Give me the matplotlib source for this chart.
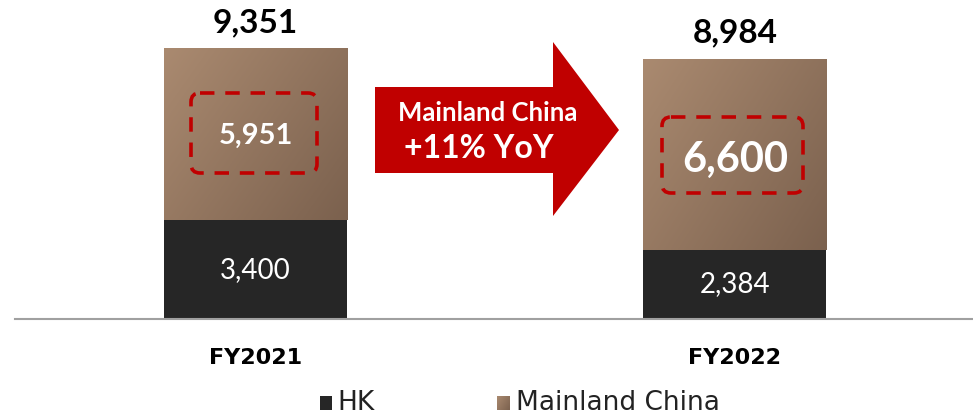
import numpy as np
import matplotlib
matplotlib.use("Agg")
import matplotlib.pyplot as plt
from matplotlib.patches import Polygon, FancyBboxPatch, Rectangle
from matplotlib.colors import LinearSegmentedColormap

categories = ["FY2021", "FY2022"]
hk = [3400, 2384]
mainland = [5951, 6600]
totals = [9351, 8984]
legend_labels = ["HK", "Mainland China"]
arrow_text = ["Mainland China", "+11% YoY"]

W, H = 973, 416
fig = plt.figure(figsize=(W / 100, H / 100), dpi=100)

HK_COLOR = "#262626"
RED = "#c00000"
brown_cmap = LinearSegmentedColormap.from_list("brown", ["#aa8a70", "#7b614e"])

# main axes: baseline at y=319 px, spans x 15..973
ax = fig.add_axes([15 / W, 97 / H, 1 - 15 / W, 319 / H])
x = np.arange(len(categories))
width = 0.3817
ax.set_xlim(-0.5016, 1.4964)
ax.set_ylim(0, 11007)

ax.bar(x, hk, width, color=HK_COLOR, zorder=2)
mbars = ax.bar(x, mainland, width, bottom=hk, color="#93765f", zorder=2)

# diagonal gradient: light top-left -> dark bottom-right
gx, gy = np.meshgrid(np.linspace(0, 1, 200), np.linspace(0, 1, 200))
grad = gx * 0.6 + gy * 0.4
for b in mbars:
    x0, y0 = b.get_x(), b.get_y()
    im = ax.imshow(grad, cmap=brown_cmap, aspect="auto", origin="upper",
                   extent=[x0, x0 + b.get_width(), y0, y0 + b.get_height()],
                   zorder=3)
    im.set_clip_path(b)
ax.set_xlim(-0.5016, 1.4964)
ax.set_ylim(0, 11007)

for xi, v in zip(x, hk):
    ax.text(xi, v / 2, f"{v:,}", ha="center", va="center", color="white",
            fontsize=20, family="Lato", zorder=5)
ax.text(x[0], hk[0] + mainland[0] * 0.49, f"{mainland[0]:,}", ha="center", va="center",
        color="white", fontsize=21, fontweight="bold", family="Lato", zorder=5)
ax.text(x[1], hk[1] + mainland[1] * 0.47, f"{mainland[1]:,}", ha="center", va="center",
        color="white", fontsize=30, fontweight="bold", family="Lato", zorder=5)
for xi, t in zip(x, totals):
    ax.annotate(f"{t:,}", (xi, t), xytext=(0, 8), textcoords="offset points",
                ha="center", va="bottom", fontsize=24, fontweight="bold",
                family="Lato", color="black")

ax.set_xticks(x)
ax.set_xticklabels(categories, fontsize=16, fontweight="bold",
                   family=["Liberation Sans Narrow", "DejaVu Sans"])
ax.tick_params(axis="x", length=0, pad=21)
ax.set_yticks([])
for s in ["top", "right", "left"]:
    ax.spines[s].set_visible(False)
ax.spines["bottom"].set_color("#a0a0a0")
ax.spines["bottom"].set_linewidth(1.5)

# overlay in pixel coordinates for annotations
ov = fig.add_axes([0, 0, 1, 1], facecolor="none")
ov.set_xlim(0, W)
ov.set_ylim(H, 0)
ov.axis("off")

arrow = Polygon([(375, 87), (553, 87), (553, 42), (619, 130), (553, 216),
                 (553, 173), (375, 173)], closed=True, facecolor=RED,
                edgecolor="none", zorder=2)
ov.add_patch(arrow)
ov.text(488, 113, arrow_text[0], ha="center", va="center", color="white",
        fontsize=18.5, fontweight="bold", family="Lato", zorder=3)
ov.text(479, 148, arrow_text[1], ha="center", va="center", color="white",
        fontsize=23, fontweight="bold", family="Lato", zorder=3)

for (bx, by, bw, bh) in [(191, 93, 126, 80), (662, 117, 141, 76)]:
    p = FancyBboxPatch((bx, by), bw, bh, boxstyle="round,pad=0,rounding_size=9",
                       facecolor="none", edgecolor=RED, linewidth=2.6,
                       linestyle=(0, (4, 3)), zorder=4)
    ov.add_patch(p)

# legend
ov.add_patch(Rectangle((320, 396), 12, 14, facecolor=HK_COLOR, edgecolor="none"))
ov.text(337, 403, legend_labels[0], ha="left", va="center", fontsize=19,
        family="DejaVu Sans", color="#222222")
ov.imshow(grad, cmap=brown_cmap, aspect="auto", origin="upper",
          extent=[497, 510, 410, 396], zorder=3)
ov.set_xlim(0, W)
ov.set_ylim(H, 0)
ov.text(516, 403, legend_labels[1], ha="left", va="center", fontsize=19,
        family="DejaVu Sans", color="#222222")

fig.savefig("out.png", dpi=100)
